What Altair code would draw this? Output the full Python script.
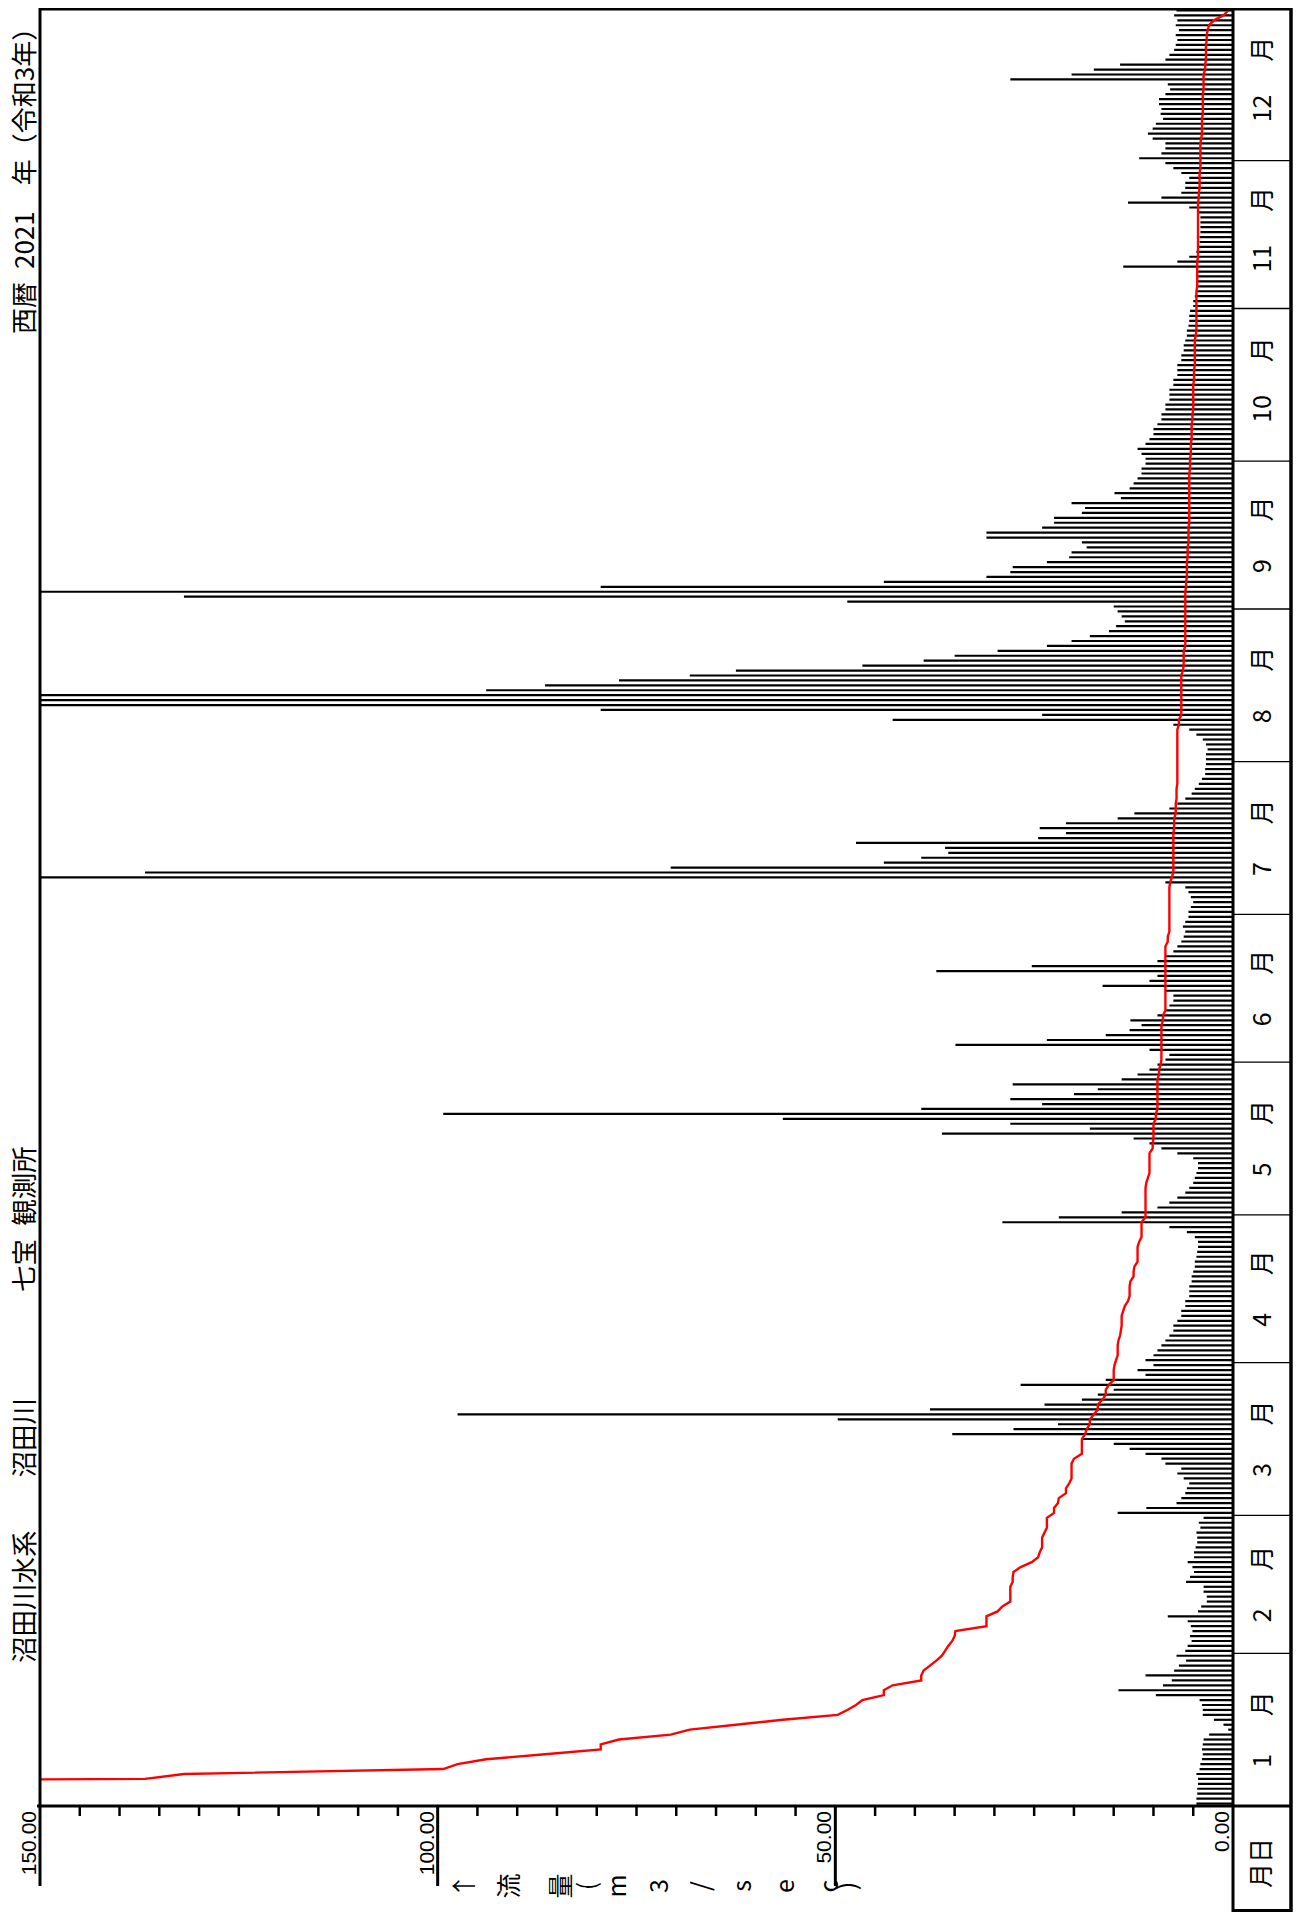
import altair as alt
import pandas as pd

# ---------------- data (daily discharge, m3/sec, 2021) ----------------
jan = [4.6, 4.6, 4.5, 4.5, 4.4, 4.4, 4.6, 4.2, 4.1, 3.9,
       3.8, 3.9, 3.8, 3.7, 3.0, 0.6, 1.2, 2.4, 3.8, 3.8,
       3.9, 4.2, 9.7, 14.4, 8.8, 7.7, 11.0, 7.4, 6.8, 5.9,
       7.1]
feb = [6.0, 5.7, 5.2, 5.4, 5.1, 5.3, 5.7, 8.2, 4.4, 4.0,
       3.3, 3.3, 3.7, 3.7, 5.9, 5.4, 4.9, 5.1, 5.7, 4.9,
       4.9, 4.7, 4.5, 4.5, 4.6, 4.1, 4.3, 3.7]
mar = [14.5, 10.9, 7.1, 6.5, 6.0, 5.8, 5.5, 6.2, 7.0, 6.5,
       8.5, 9.0, 11.0, 13.0, 15.0, 19.0, 35.3, 27.6, 22.0, 49.7,
       97.5, 38.1, 23.7, 19.0, 17.0, 15.0, 26.7, 16.0, 11.0, 12.0,
       10.0]
apr = [11, 10, 9.5, 9, 8.5, 8, 7.5, 7.5, 7, 6.5,
       6.5, 6, 6, 5.5, 5.5, 5.5, 5.2, 5.2, 5, 4.8,
       4.8, 4.6, 4.5, 4.4, 4.4, 4.8, 5.8, 8, 29, 21.9]
may = [14, 9.5, 8, 7, 6, 5.5, 5, 4.8, 4.6, 4.4,
       4.4, 5, 7, 9, 10.5, 12.5, 36.6, 18, 28, 56.6,
       99.3, 39.2, 24, 28, 20, 17, 27.7, 14, 12, 10.5,
       9.5]
jun = [8.5, 8, 10.5, 34.9, 23.4, 16, 13, 11.5, 12.9, 9.5,
       8.5, 8, 7.5, 7.5, 8.5, 16.4, 10.5, 9.5, 37.3, 25.3,
       9.5, 8.5, 7.5, 7, 6.5, 6.2, 6, 6.3, 6, 5.6]
jul = [5.6, 5.3, 5, 5.3, 5.6, 6, 8.5, 300, 136.8, 70.7,
       43.9, 39.2, 35.8, 36.2, 47.4, 24.5, 21, 24.3, 21, 14.5,
       12.4, 8, 7, 6, 5.2, 4.8, 4.3, 3.9, 3.5, 3.5,
       3.4]
aug = [3.4, 3.4, 3.2, 3.4, 3.8, 4.6, 5.5, 7.5, 42.8, 24,
       79.5, 280, 350, 270, 93.9, 86.5, 77.2, 68.3, 62.5, 46.6,
       38.9, 35, 29.6, 23.4, 20.3, 18, 15.6, 14.7, 13.6, 14,
       14.5]
sep = [15, 48.5, 131.9, 320, 79.5, 43.9, 31, 28, 27.7, 23.4,
       20.6, 20.3, 18.4, 19, 31, 31, 24, 22.5, 22.5, 19,
       18.6, 20.3, 14.1, 14.9, 13, 12.5, 12, 11.5, 11.5, 11]
oct_ = [11, 11.5, 12, 11, 10.5, 10, 10, 9.5, 9, 9,
        8.5, 8.5, 8, 8, 8, 7.5, 7.5, 7, 7, 7,
        6.5, 6.5, 6.2, 6.2, 6, 5.8, 5.8, 5.6, 5.5, 5.5,
        5.4]
nov = [5, 5, 4.8, 4.6, 4.5, 4.4, 4.4, 4.4, 13.8, 7,
       5.5, 4.6, 4.4, 4.2, 4.2, 4.1, 4.1, 4.1, 4.1, 4.4,
       5.5, 13.2, 9, 6.5, 6, 6, 5.5, 6.5, 7.5, 8.5]
dec = [11.8, 9, 8.5, 8.5, 10.1, 10.7, 10.1, 9.7, 8.8, 9.1,
       9.0, 9.3, 9.3, 8.5, 7.9, 8.2, 28, 20.3, 17.5, 14.2,
       8.5, 8.0, 7.4, 7.2, 7.0, 7.2, 6.8, 7.2, 7.0, 7.4,
       7.1]

daily_by_month = [jan, feb, mar, apr, may, jun, jul, aug, sep, oct_, nov, dec]
month_labels = ["1", "2", "3", "4", "5", "6", "7", "8", "9", "10", "11", "12"]
month_word = "月"
major_ticks = [150, 100, 50, 0]
major_tick_labels = ["150.00", "100.00", "50.00", "0.00"]
minor_tick_step = 5
unit_chars = ["↑", "流", "量", "(", "m", "3", "/", "s", "e", "c", ")"]
unit_char_values = [96.6, 90.9, 84.4, 81.1, 77.3, 72.0, 66.8, 61.6, 56.2, 50.7, 48.4]
title_year = "西暦\u20022021\u3000年（令和3年）"
title_station = "沼田川水系\u3000\u3000沼田川\u3000\u3000\u3000\u3000七宝\u2002観測所"
corner_label = "月日"

# ---------------- layout (page pixels -> data coordinates) ----------------
AXIS_MAX = 150.0
PAD_L, PAD_T, PAD_R, PAD_B = 32, 0, 4, 3
PLOT_LEFT_PX = 8 + PAD_L          # page x of value 150
ZERO_PX = 1233                    # page x of value 0
RIGHT_PX = 1292                   # page x of outer right frame
TOP_PX = 8                        # page y of Dec 31 end
AXIS_PX = 1806                    # page y of Jan 1 start
BOTTOM_PX = 1912                  # page y of bottom frame
PXU = (ZERO_PX - PLOT_LEFT_PX) / AXIS_MAX
N_DAYS = sum(len(m) for m in daily_by_month)
PXD = (AXIS_PX - TOP_PX) / N_DAYS
W = RIGHT_PX - PLOT_LEFT_PX
H = BOTTOM_PX - TOP_PX


def vx(px):
    return AXIS_MAX - (px - PLOT_LEFT_PX) / PXU


def dy(py):
    return (AXIS_PX - py) / PXD


X_LO = vx(RIGHT_PX)
Y_LO = dy(BOTTOM_PX)
xs = alt.Scale(domain=[X_LO, AXIS_MAX], reverse=True, nice=False, zero=False)
ys = alt.Scale(domain=[Y_LO, N_DAYS], nice=False, zero=False)

# ---------------- tables ----------------
values = [v for m in daily_by_month for v in m]
df_bars = pd.DataFrame({"day": list(range(1, len(values) + 1)), "flow": values})
df_bars["yc"] = df_bars["day"] - 0.5
df_bars["shown"] = df_bars["flow"].clip(upper=AXIS_MAX)
df_bars["base"] = 0.0

sorted_vals = sorted(values, reverse=True)
df_dur = pd.DataFrame({"rank": list(range(1, len(sorted_vals) + 1)), "flow": sorted_vals})
df_dur["yc"] = df_dur["rank"] - 0.5

cum = [0]
for m in daily_by_month:
    cum.append(cum[-1] + len(m))

segs = []
def seg(x1, x2, y1, y2, w):
    segs.append({"x1": x1, "x2": x2, "y1": y1, "y2": y2, "w": w})

seg(AXIS_MAX, X_LO, dy(9.3), dy(9.3), 2.5)                 # top frame
seg(AXIS_MAX, AXIS_MAX, dy(TOP_PX), dy(1886), 3)          # left frame / 150 tick
seg(vx(37), X_LO, 0, 0, 3)                                 # value axis line
seg(0, 0, dy(TOP_PX), Y_LO, 3)                             # zero line
seg(vx(RIGHT_PX - 1), vx(RIGHT_PX - 1), dy(TOP_PX), Y_LO, 3.5)  # right frame
seg(0, X_LO, dy(BOTTOM_PX - 1.5), dy(BOTTOM_PX - 1.5), 3)  # bottom of box
for c in cum[1:-1]:
    seg(0, X_LO, c, c, 1.3)                                # month separators
for t in major_ticks:
    if 0 < t < AXIS_MAX:
        seg(t, t, 0, dy(1886), 3)
for t in range(minor_tick_step, int(AXIS_MAX), minor_tick_step):
    if t not in major_ticks:
        seg(t, t, 0, dy(1816), 2.5)
df_segs = pd.DataFrame(segs)

df_ticklab = pd.DataFrame({"x": [t + 0.5 for t in major_ticks],
                           "y": [dy(1811)] * len(major_ticks),
                           "text": major_tick_labels})
df_unit = pd.DataFrame({"x": unit_char_values,
                        "y": [dy(1886)] * len(unit_chars),
                        "text": unit_chars})
mid = [(cum[i] + cum[i + 1]) / 2 for i in range(12)]
df_mnum = pd.DataFrame({"x": [vx(1263)] * 12,
                        "y": [m - 38 / PXD for m in mid],
                        "text": month_labels})
df_mword = pd.DataFrame({"x": [vx(1263)] * 12,
                         "y": [m + (26 + 9 * (len(lab) - 1)) / PXD for m, lab in zip(mid, month_labels)],
                         "text": [month_word] * 12})
df_corner = pd.DataFrame({"x": [vx(1262)], "y": [dy(1863)], "text": [corner_label]})
df_t1 = pd.DataFrame({"x": [vx(26)], "y": [dy(334)], "text": [title_year]})
df_t2 = pd.DataFrame({"x": [vx(26)], "y": [dy(1663)], "text": [title_station]})

# ---------------- layers ----------------
X = lambda f: alt.X(f, type="quantitative", scale=xs, axis=None)
Y = lambda f: alt.Y(f, type="quantitative", scale=ys, axis=None)

bars = alt.Chart(df_bars).mark_rule(color="black", strokeWidth=2.2).encode(
    x=X("shown"), x2="base:Q", y=Y("yc"))

curve = alt.Chart(df_dur).mark_line(color="#ff0000", strokeWidth=2.4, clip=True).encode(
    x=X("flow"), y=Y("yc"), order=alt.Order("rank:Q"))

frame = alt.Chart(df_segs).mark_rule(color="black").encode(
    x=X("x1"), x2="x2:Q", y=Y("y1"), y2="y2:Q",
    strokeWidth=alt.StrokeWidth("w:Q", scale=None))

def texts(df, size, align, font, baseline="middle"):
    return alt.Chart(df).mark_text(angle=270, align=align, baseline=baseline,
                                   fontSize=size, font=font, color="black").encode(
        x=X("x"), y=Y("y"), text="text:N")

jp = "Noto Sans CJK JP"
layers = [
    bars, curve, frame,
    texts(df_ticklab, 21, "right", "Liberation Sans", "alphabetic"),
    texts(df_unit, 25, "center", jp),
    texts(df_mnum, 25, "left", jp),
    texts(df_mword, 25, "center", jp),
    texts(df_corner, 25, "center", jp),
    texts(df_t1, 26, "left", jp),
    texts(df_t2, 26.5, "left", jp),
]

chart = alt.layer(*layers).properties(
    width=W, height=H,
    padding={"left": PAD_L, "top": PAD_T, "right": PAD_R, "bottom": PAD_B},
    autosize=alt.AutoSizeParams(type="none"),
).configure_view(strokeWidth=0)

chart.save("out.html", embed_options={"renderer": "svg", "actions": False})
